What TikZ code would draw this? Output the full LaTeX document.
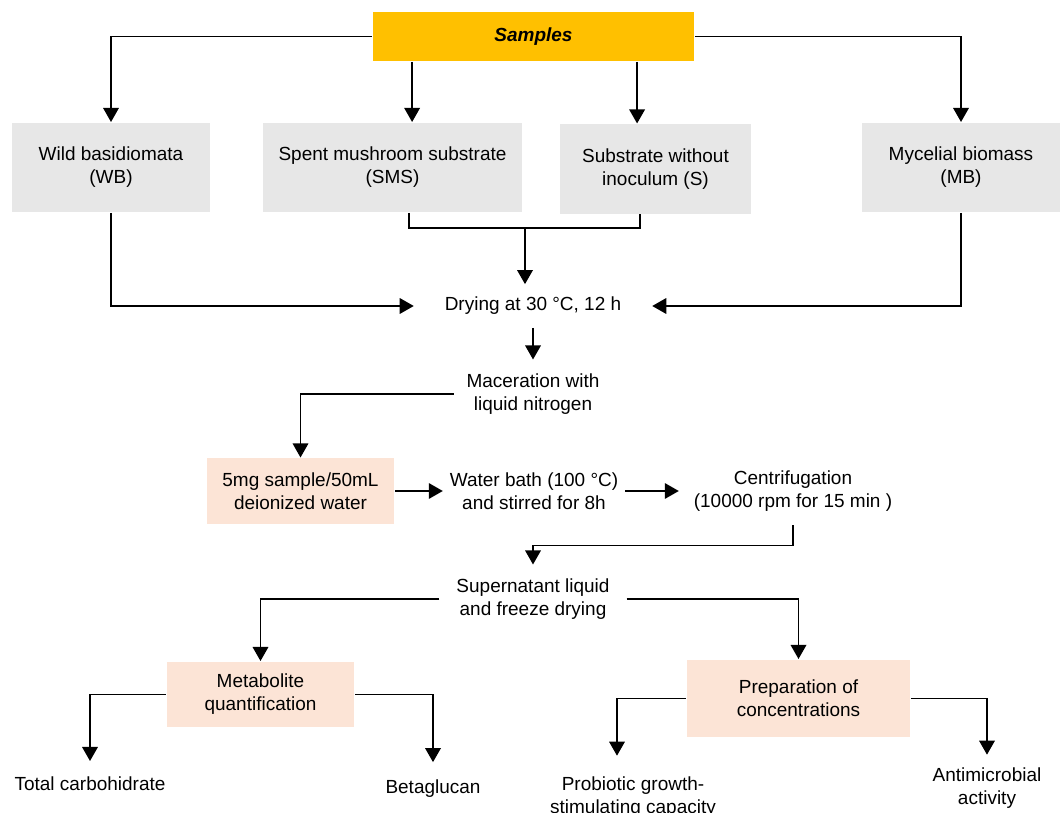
\documentclass[tikz,border=0pt]{standalone}
\usepackage{fontspec}
\setmainfont{Liberation Sans}
\usetikzlibrary{arrows.meta,positioning}
\definecolor{amber}{HTML}{FFC000}
\definecolor{boxgray}{HTML}{E7E7E7}
\definecolor{peach}{HTML}{FCE4D6}

\begin{document}
\begin{tikzpicture}[
  x=0.025cm, y=-0.025cm,
  font=\fontsize{13.5}{16.3}\selectfont,
  line width=1.4pt,
  src/.style={fill=boxgray,align=center,minimum width=4.95cm,minimum height=2.225cm},
  proc/.style={fill=peach,align=center,minimum width=4.675cm,minimum height=1.625cm},
  txt/.style={align=center,inner xsep=2mm,inner ysep=3.3mm},
  >={Triangle[length=10pt,width=11pt]}]
\useasboundingbox (0,0) rectangle (1061,813);
\node[fill=amber,minimum width=8.025cm,minimum height=1.225cm] (smp) at (533.5,36.5) {\textbf{\textit{Samples}}};
\node[src] (wb) at (111,167.5) {Wild basidiomata\\(WB)};
\node[src,minimum width=6.475cm] (sms) at (392.5,167.5) {Spent mushroom substrate\\(SMS)};
\node[src,minimum width=4.775cm] (sub) at (655.5,169) {Substrate without\\inoculum (S)};
\node[src] (mb) at (961,167.5) {Mycelial biomass\\(MB)};
\node[txt,inner xsep=7.5mm,inner ysep=3mm] (dry) at (533,306) {Drying at 30 °C, 12 h};
\node[txt,inner xsep=3mm] (mac) at (533,394) {Maceration with\\liquid nitrogen};
\node[proc] (samp) at (300.5,491) {5mg sample/50mL\\deionized water};
\node[txt,inner xsep=1.5mm] (bath) at (534,491) {Water bath (100 °C)\\and stirred for 8h};
\node[txt,inner xsep=3.5mm] (cent) at (793,491) {Centrifugation\\(10000 rpm for 15 min )};
\node[txt,inner xsep=4mm] (sup) at (533,599) {Supernatant liquid\\and freeze drying};
\node[proc] (meta) at (260.5,694.5) {Metabolite\\quantification};
\node[proc,minimum width=5.575cm,minimum height=1.925cm] (conc) at (798.5,698.5) {Preparation of\\concentrations};
\node[txt,inner ysep=3.75mm] (tot) at (90,784) {Total carbohidrate};
\node[txt,inner ysep=4.25mm] (beta) at (433,789) {Betaglucan};
\node[txt,inner ysep=5mm] (prob) at (633,797) {Probiotic growth-\\stimulating capacity};
\node[txt,inner ysep=3mm] (anti) at (987,788) {Antimicrobial\\activity};
\coordinate (mrg) at (525,228);
\draw[->] (smp.west) -| (wb);
\draw[->] (smp.east) -| (mb);
\draw[->] ([xshift=4.9mm]sms.north |- smp.south) -- ([xshift=4.9mm]sms.north);
\draw[->] ([xshift=-4.6mm]sub.north |- smp.south) -- ([xshift=-4.6mm]sub.north);
\draw ([xshift=4.1mm]sms.south) |- (mrg) -| ([xshift=-3.9mm]sub.south);
\draw[->] (mrg) -- (mrg |- dry.north);
\draw[->] (wb) |- (dry);
\draw[->] (mb) |- (dry);
\draw[->] (dry) -- (mac);
\draw[->] (mac) -| (samp);
\draw[->] (samp) -- (bath);
\draw[->] (bath) -- (cent);
\draw[->] (cent.south) -- ++(0,20) -| (sup);
\draw[->] (sup) -| (meta);
\draw[->] (sup) -| (conc);
\draw[->] (meta) -| (tot);
\draw[->] (meta) -| (beta);
\draw[->] (conc) -| ([xshift=-4mm]prob.north);
\draw[->] (conc) -| (anti);
\end{tikzpicture}
\end{document}
